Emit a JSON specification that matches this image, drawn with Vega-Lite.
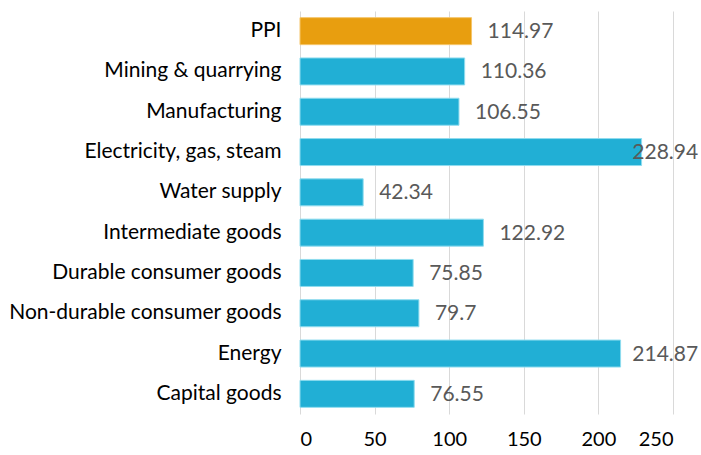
{
  "$schema": "https://vega.github.io/schema/vega-lite/v6.json",
  "autosize": "none",
  "width": 373,
  "height": 403,
  "padding": {"left": 300, "top": 11, "right": 28, "bottom": 41},
  "background": "white",
  "data": {"values": [
    {"category": "PPI", "value": 114.97, "group": "total"},
    {"category": "Mining & quarrying", "value": 110.36, "group": "sector"},
    {"category": "Manufacturing", "value": 106.55, "group": "sector"},
    {"category": "Electricity, gas, steam", "value": 228.94, "group": "sector"},
    {"category": "Water supply", "value": 42.34, "group": "sector"},
    {"category": "Intermediate goods", "value": 122.92, "group": "sector"},
    {"category": "Durable consumer goods", "value": 75.85, "group": "sector"},
    {"category": "Non-durable consumer goods", "value": 79.7, "group": "sector"},
    {"category": "Energy", "value": 214.87, "group": "sector"},
    {"category": "Capital goods", "value": 76.55, "group": "sector"}
  ]},
  "config": {
    "view": {"stroke": null},
    "font": "Lato"
  },
  "encoding": {
    "y": {
      "field": "category", "type": "nominal", "sort": null,
      "scale": {"paddingInner": 0.33, "paddingOuter": 0.165},
      "axis": {"title": null, "domain": false, "ticks": false, "labelPadding": 19, "labelLimit": 400,
               "labelFontSize": 21, "labelColor": "#000000", "labelFont": "Lato", "grid": false}
    }
  },
  "layer": [
    {
      "mark": {"type": "bar", "strokeWidth": 1},
      "encoding": {
        "x": {
          "field": "value", "type": "quantitative",
          "scale": {"domain": [0, 250], "nice": false},
          "axis": {"title": null, "domain": false, "ticks": false, "values": [0, 50, 100, 150, 200, 250],
                   "labelFontSize": 20, "labelColor": "#000000", "labelPadding": 15, "labelFont": "Lato",
                   "grid": true, "gridColor": "#D9D9D9", "gridWidth": 1}
        },
        "color": {"field": "group", "type": "nominal",
                  "scale": {"domain": ["total", "sector"], "range": ["#E89E0F", "#21AFD5"]}, "legend": null},
        "stroke": {"field": "group", "type": "nominal",
                  "scale": {"domain": ["total", "sector"], "range": ["#F5C56A", "#8FDCEF"]}, "legend": null}
      }
    },
    {
      "transform": [{"calculate": "min(datum.value, 212)", "as": "labelPos"}],
      "mark": {"type": "text", "align": "left", "baseline": "middle", "dx": 16, "dy": 1, "fontSize": 21, "fill": "#595959", "font": "Lato"},
      "encoding": {
        "x": {"field": "labelPos", "type": "quantitative"},
        "text": {"field": "value", "type": "quantitative"}
      }
    }
  ]
}
